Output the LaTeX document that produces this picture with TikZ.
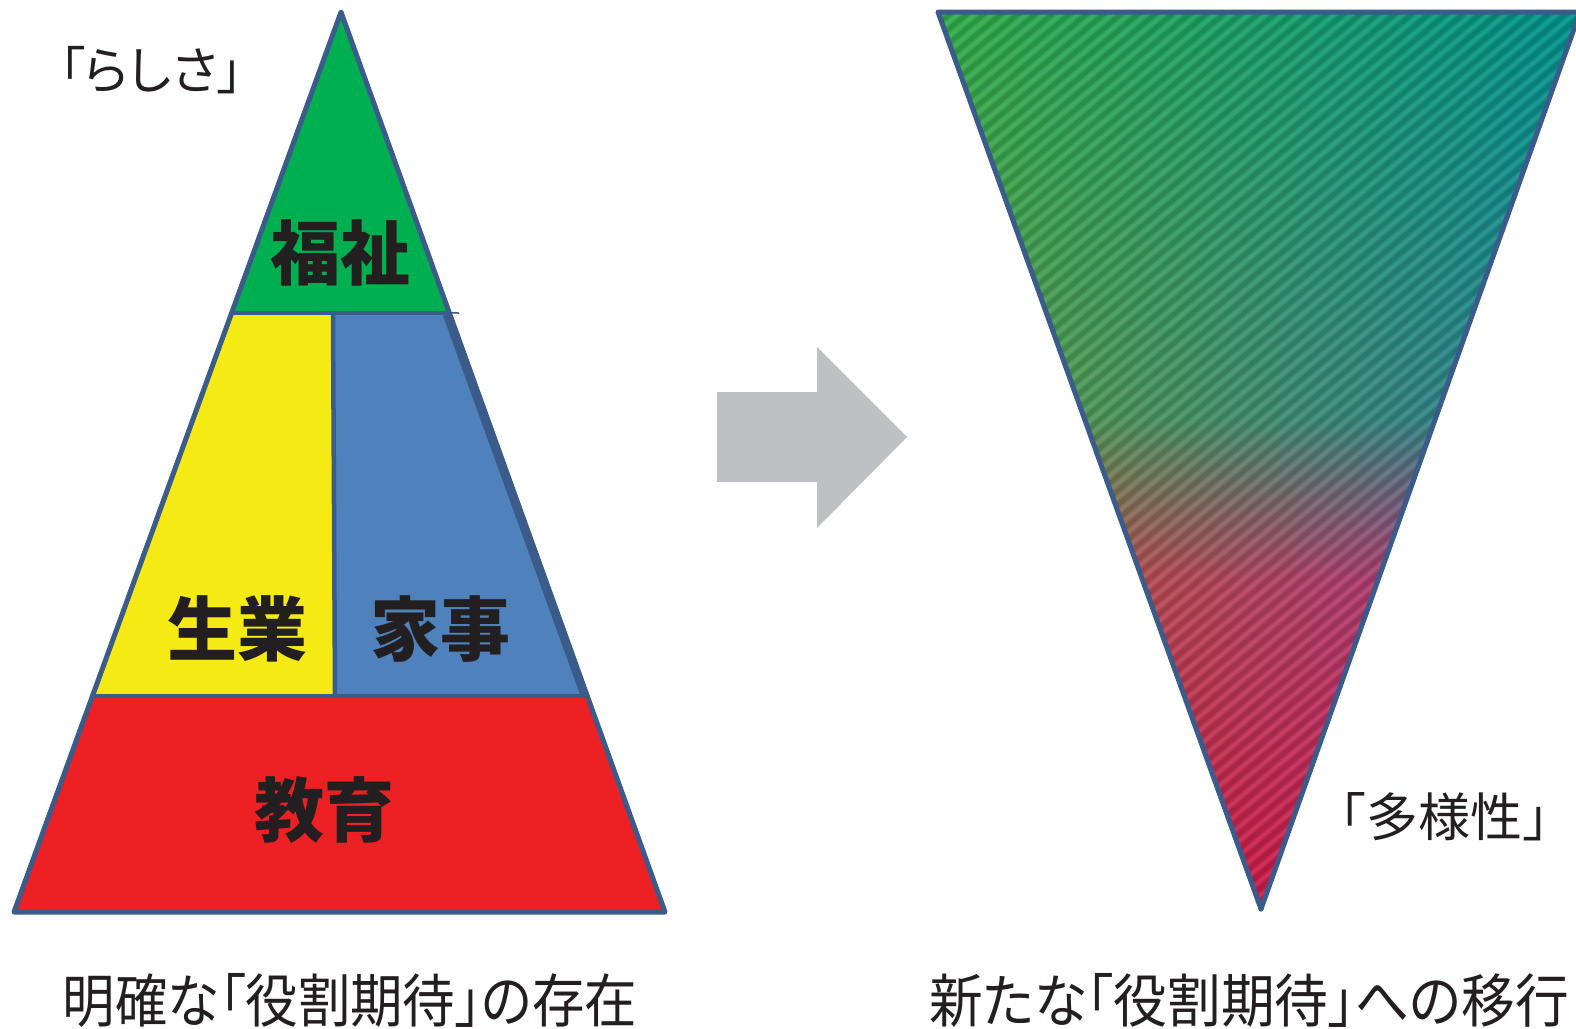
\documentclass[tikz,border=0pt]{standalone}
\usepackage{fontspec}
\usepackage{graphicx}
\newfontfamily\cjk{Noto Sans CJK JP}
\newfontfamily\cjkp[RawFeature=+palt]{Noto Sans CJK JP}
\usetikzlibrary{calc,shadings}
\definecolor{edgeblue}{RGB}{59,91,138}
\definecolor{pgreen}{RGB}{0,176,80}
\definecolor{pyellow}{RGB}{245,234,20}
\definecolor{pblue}{RGB}{79,129,189}
\definecolor{pred}{RGB}{237,32,36}
\definecolor{arrowgray}{RGB}{191,192,196}
\definecolor{textblack}{RGB}{35,31,32}
\definecolor{gA}{RGB}{50,172,72}
\definecolor{gB}{RGB}{0,148,140}
\definecolor{gC}{RGB}{95,158,68}
\definecolor{gD}{RGB}{40,125,155}
\definecolor{gE}{RGB}{190,88,55}
\definecolor{gF}{RGB}{165,50,140}
\definecolor{gG}{RGB}{200,24,48}
\definecolor{gH}{RGB}{208,26,92}
\tikzset{
  outline/.style={draw=edgeblue, line width=5pt, line join=round, line cap=round},
  divider/.style={draw=edgeblue, line width=4.5pt, line cap=round},
  lbl/.style={inner sep=0pt, text=textblack, font=\cjk\bfseries\fontsize{70}{80}\selectfont},
  txt/.style={inner sep=0pt, text=textblack},
  stripe/.style={draw=black, opacity=0.13, line width=4.5pt},
  hilite/.style={draw=white, opacity=0.08, line width=3pt}
}
\begin{document}
\begin{tikzpicture}[x=1pt,y=-1pt]
\useasboundingbox (0,0) rectangle (1576,1028);
% ---- left pyramid ----
\coordinate (A) at (341,12);
\coordinate (B) at (665,912);
\coordinate (C) at (14,912);
\coordinate (L1) at ($(A)!0.3344!(C)$);
\coordinate (R1) at ($(A)!0.3344!(B)$);
\coordinate (L2) at ($(A)!0.76!(C)$);
\coordinate (R2) at ($(A)!0.76!(B)$);
\coordinate (M1) at (333,314);
\coordinate (M2) at (335,696);
\coordinate (T1) at (459,313);
\fill[pgreen] (A) -- (R1) -- (L1) -- cycle;
\fill[pyellow] (L1) -- (M1) -- (M2) -- (L2) -- cycle;
\fill[pblue] (M1) -- (R1) -- (R2) -- (M2) -- cycle;
\fill[pred] (L2) -- (R2) -- (B) -- (C) -- cycle;
\draw[divider] (L1) -- (R1);
\draw[draw=edgeblue, line width=1.5pt] (R1) -- (T1);
\draw[divider] (M1) -- (M2);
\draw[divider] (L2) -- (R2);
\draw[edgeblue, line width=5pt] ($(R1)+(-4,2)$) -- ($(R2)+(-4,0)$);
\draw[outline] (A) -- (B) -- (C) -- cycle;
\node[lbl] (fukushi) at (340,253) {福祉};
\node[lbl] (seigyo) at (237,629) {生業};
\node[lbl] (kaji) at (440,629) {家事};
\node[lbl] (kyoiku) at (324,810) {教育};
\node[txt] (rashisa) at (151,70) {\resizebox{183pt}{\height}{\cjkp\fontsize{51}{60}\selectfont 「らしさ」}};
% ---- arrow ----
\fill[arrowgray] (717,392) -- (817,392) -- (817,347) -- (907,437) -- (817,528) -- (817,482) -- (717,482) -- cycle;
% ---- right inverted triangle ----
\coordinate (P) at (938,12);
\coordinate (Q) at (1580,12);
\coordinate (R) at (1261,909);
\begin{scope}
  \clip (P) -- (Q) -- (R) -- cycle;
  \shade[upper left=gA, upper right=gB, lower left=gC, lower right=gD] (930,0) rectangle (1580,420);
  \shade[upper left=gC, upper right=gD, lower left=gE, lower right=gF] (930,419) rectangle (1580,581);
  \shade[upper left=gE, upper right=gF, lower left=gG, lower right=gH] (930,580) rectangle (1580,920);
  \foreach \i in {-54,...,36}{
    \draw[stripe] ({1257+\i*11*0.643-760*0.766},{460+\i*11*0.766+760*0.643}) -- ({1257+\i*11*0.643+760*0.766},{460+\i*11*0.766-760*0.643});
    \draw[hilite] ({1257+(\i+0.5)*11*0.643-760*0.766},{460+(\i+0.5)*11*0.766+760*0.643}) -- ({1257+(\i+0.5)*11*0.643+760*0.766},{460+(\i+0.5)*11*0.766-760*0.643});
  }
\end{scope}
\draw[outline] (R) -- (P) -- (Q);
\draw[outline] (Q) -- (R);
\node[txt, anchor=east] (tayosei) at (1575,817) {\cjk\fontsize{52}{60}\selectfont 「多様性」};
% ---- captions ----
\node[txt] (capL) at (350,1000) {\resizebox{574pt}{\height}{\cjkp\fontsize{58}{68}\selectfont 明確な「役割期待」の存在}};
\node[txt] (capR) at (1249,1000) {\resizebox{640pt}{\height}{\cjkp\fontsize{58}{68}\selectfont 新たな「役割期待」への移行}};
\end{tikzpicture}
\end{document}
